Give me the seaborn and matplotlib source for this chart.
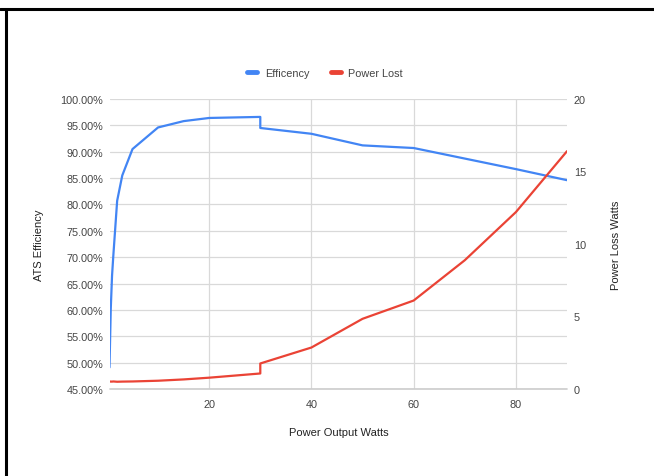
import pandas as pd
import numpy as np
import seaborn as sns
import matplotlib.pyplot as plt
from matplotlib.lines import Line2D
from matplotlib.ticker import FuncFormatter

# values
power_out = [0.5, 0.75, 1, 1.25, 2, 3, 5, 10, 15, 20, 30, 30, 40, 50, 60, 70, 80, 90]
efficiency = [49.1, 60.2, 66.5, 70.3, 80.7, 85.5, 90.5, 94.6, 95.8, 96.4, 96.6, 94.5,
              93.4, 91.2, 90.7, 88.7, 86.7, 84.6]
power_lost = [0.52, 0.51, 0.51, 0.52, 0.50, 0.51, 0.52, 0.57, 0.66, 0.78, 1.07, 1.76,
              2.86, 4.84, 6.1, 8.88, 12.2, 16.4]

left_ticks = [45, 50, 55, 60, 65, 70, 75, 80, 85, 90, 95, 100]
right_ticks = [0, 5, 10, 15, 20]
x_ticks = [20, 40, 60, 80]

df = pd.DataFrame({"Power Output Watts": power_out, "Efficency": efficiency, "Power Lost": power_lost})

sns.set_style("white")
plt.rcParams['font.family'] = ['Liberation Sans', 'DejaVu Sans']

blue = "#4285F4"
red = "#EA4335"
txt = "#444444"
grid = "#d9d9d9"

fig = plt.figure(figsize=(6.54, 4.77), dpi=100)
ax = fig.add_axes([0.1682, 0.1824, 0.6988, 0.608])
ax2 = ax.twinx()

sns.lineplot(data=df, x="Power Output Watts", y="Efficency", ax=ax, color=blue, lw=1.6,
             estimator=None, sort=False, zorder=3)
sns.lineplot(data=df, x="Power Output Watts", y="Power Lost", ax=ax2, color=red, lw=1.6,
             estimator=None, sort=False, zorder=3)

ax.set_xlim(0.6, 90)
ax.set_ylim(45, 100)
ax2.set_ylim(0, 20)

ax.set_yticks(left_ticks)
ax.yaxis.set_major_formatter(FuncFormatter(lambda v, p: f"{v:.2f}%"))
ax2.set_yticks(right_ticks)
ax.set_xticks(x_ticks)

ax.grid(True, color=grid, lw=0.9)
ax.axhline(45, color="#cccccc", lw=1.2, clip_on=False, zorder=1)
ax.set_axisbelow(True)
for a in (ax, ax2):
    for s in a.spines.values():
        s.set_visible(False)
    a.tick_params(length=0, labelsize=7.8, labelcolor=txt)
ax.tick_params(axis="y", pad=5)
ax.tick_params(axis="x", pad=7)
ax2.tick_params(axis="y", pad=5)

ax.set_xlabel("Power Output Watts", fontsize=8, color="#222222", labelpad=13)
ax.set_ylabel("ATS Efficiency", fontsize=8, color="#222222", labelpad=12)
ax2.set_ylabel("Power Loss Watts", fontsize=8, color="#222222", labelpad=18)

handles = [Line2D([], [], color=blue, lw=3.5), Line2D([], [], color=red, lw=3.5)]
fig.legend(handles, ["Efficency", "Power Lost"], loc="center", bbox_to_anchor=(0.497, 0.845),
           ncol=2, frameon=False, fontsize=7.8, handlelength=0.9, handletextpad=0.7,
           columnspacing=2.0, labelcolor=txt)

# black frame lines around the screenshot
fig.add_artist(Line2D([0, 1], [1 - 9.5 / 477, 1 - 9.5 / 477], color="black", lw=2.2))
fig.add_artist(Line2D([6 / 654, 6 / 654], [0, 1 - 9.5 / 477], color="black", lw=2.2))

fig.savefig("out.png", dpi=100)
